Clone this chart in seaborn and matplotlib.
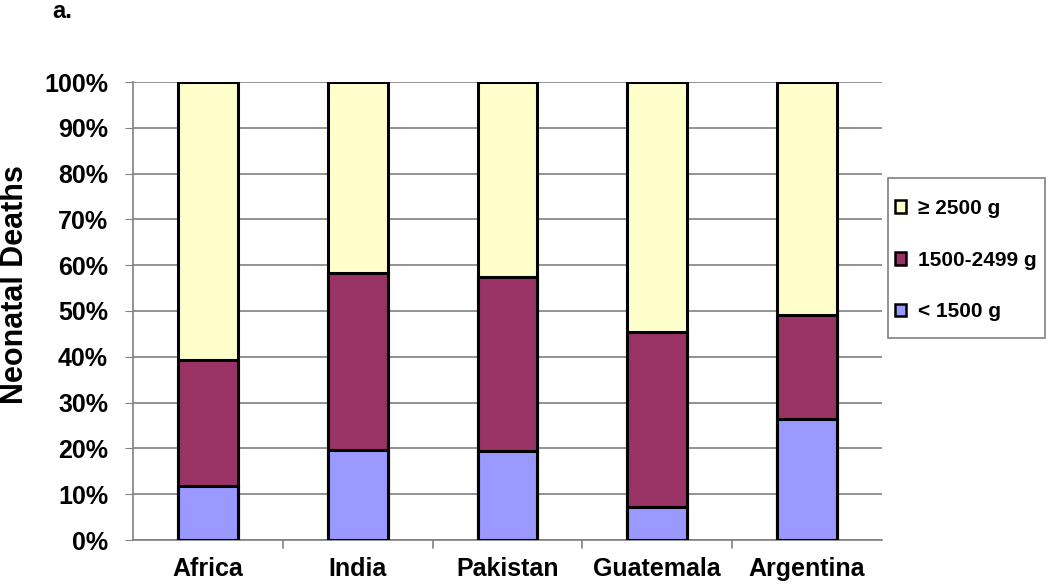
import numpy as np
import pandas as pd
import seaborn as sns
import matplotlib.pyplot as plt
from matplotlib.patches import Patch, Rectangle

# data (% of neonatal deaths by birth weight)
regions = ['Africa', 'India', 'Pakistan', 'Guatemala', 'Argentina']
under_1500 = [11.8, 19.6, 19.4, 7.2, 26.4]
mid_1500_2499 = [27.5, 38.7, 38.1, 38.2, 22.7]
over_2500 = [60.7, 41.7, 42.5, 54.6, 50.9]

series_labels = ['\u2265 2500 g', '1500-2499 g', '< 1500 g']
colors = ['#FFFFCC', '#993366', '#9999FF']

df = pd.DataFrame({'region': regions, 'low': under_1500, 'mid': mid_1500_2499, 'high': over_2500})
df['cum_mid'] = df['low'] + df['mid']
df['cum_high'] = df['cum_mid'] + df['high']

sns.set_style('white')
plt.rcParams['font.family'] = ['Liberation Sans', 'DejaVu Sans']
plt.rcParams['font.weight'] = 'bold'
plt.rcParams['text.color'] = 'black'
plt.rcParams['xtick.color'] = 'black'
plt.rcParams['ytick.color'] = 'black'

fig = plt.figure(figsize=(10.5, 5.84), dpi=100)
ax = fig.add_axes([133 / 1050, 44 / 584, 749 / 1050, 458 / 584])

# stacked bars drawn tallest first
for col, c in zip(['cum_high', 'cum_mid', 'low'], colors):
    sns.barplot(data=df, x='region', y=col, color=c, width=0.4, edgecolor='black',
                linewidth=2.2, saturation=1, ax=ax, zorder=3)

ax.set_ylim(0, 100)
ax.set_xlim(-0.5, 4.5)
ax.set_yticks(np.arange(0, 101, 10))
ax.set_yticklabels([f'{v}%' for v in range(0, 101, 10)], fontsize=18, fontweight='bold')
ax.set_xticks(range(len(regions)))
ax.set_xticklabels(regions, fontsize=18, fontweight='bold')
ax.tick_params(axis='x', length=0, pad=12)
ax.tick_params(axis='y', length=6, color='#808080', left=True, pad=12)
ax.yaxis.grid(True, color='#808080', linewidth=1.2, zorder=0)
ax.set_axisbelow(True)

# category boundary ticks under the x axis
for b in np.arange(0.5, 4.5, 1):
    ax.plot([b, b], [0, -1.7], color='#808080', lw=1.2, clip_on=False)

for s in ['top', 'right']:
    ax.spines[s].set_visible(False)
for s in ['left', 'bottom']:
    ax.spines[s].set_color('#808080')
    ax.spines[s].set_linewidth(1.2)

ax.set_xlabel('')
ax.set_ylabel('')
fig.text(15 / 1050, 1 - 285 / 584, 'Neonatal Deaths', fontsize=22, fontweight='bold',
         rotation=90, ha='center', va='center')

# legend box drawn separately so the padding matches
fig.patches.append(Rectangle((888 / 1050, 1 - 338 / 584), 157 / 1050, 160 / 584,
                             transform=fig.transFigure, facecolor='white',
                             edgecolor='#808080', linewidth=1.2))
handles = [Patch(facecolor=c, edgecolor='black', linewidth=1.8) for c in colors]
leg = fig.legend(handles, series_labels, loc='upper left', bbox_to_anchor=(895 / 1050, 1 - 199 / 584),
                 frameon=False, prop={'size': 15, 'weight': 'bold'},
                 handlelength=0.55, handleheight=0.55, labelspacing=1.57, borderpad=0,
                 handletextpad=0.55, borderaxespad=0)

fig.text(52 / 1050, 1 - 12 / 584, 'a.', fontsize=17, fontweight='bold', va='center')

fig.savefig('out.png', dpi=100)
